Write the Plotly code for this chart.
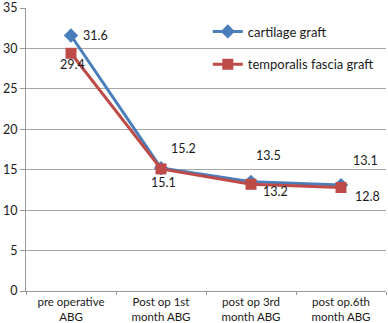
import plotly.graph_objects as go

categories = ["pre operative<br>ABG", "Post op 1st<br>month ABG", "post op 3rd<br>month ABG", "post op.6th<br>month ABG"]
cartilage = [31.6, 15.2, 13.5, 13.1]
temporalis = [29.4, 15.1, 13.2, 12.8]
y_ticks = [0, 5, 10, 15, 20, 25, 30, 35]

BLUE = "#4A7EBB"
RED = "#BE4B48"
FONT = "Lato"
TXT = "#1a1a1a"

fig = go.Figure()
fig.add_trace(go.Scatter(x=categories, y=cartilage, mode="lines+markers", name="cartilage graft",
                         legendgroup="a",
                         line=dict(color=BLUE, width=3),
                         marker=dict(symbol="diamond", size=11, color=BLUE)))
fig.add_trace(go.Scatter(x=categories, y=temporalis, mode="lines+markers", name="temporalis fascia graft",
                         legendgroup="b",
                         line=dict(color=RED, width=3),
                         marker=dict(symbol="square", size=11, color=RED)))

# data labels
c_off = [(24, 0), (22, 20), (17, 26), (24, 25)]
t_off = [(1, -11), (2, -14), (24, -7), (26, -9)]
for i, (cat, v) in enumerate(zip(categories, cartilage)):
    fig.add_annotation(x=cat, y=v, text=f"{v}", showarrow=False, xshift=c_off[i][0], yshift=c_off[i][1],
                       font=dict(family=FONT, size=12.5, color=TXT))
for i, (cat, v) in enumerate(zip(categories, temporalis)):
    fig.add_annotation(x=cat, y=v, text=f"{v}", showarrow=False, xshift=t_off[i][0], yshift=t_off[i][1],
                       font=dict(family=FONT, size=12.5, color=TXT))

fig.update_layout(
    width=388, height=323,
    margin=dict(l=26, r=2, t=8, b=32),
    paper_bgcolor="white", plot_bgcolor="white",
    font=dict(family=FONT, size=12, color=TXT),
    showlegend=True,
    legend=dict(x=0.505, y=0.97, xanchor="left", yanchor="top", bgcolor="rgba(0,0,0,0)",
                font=dict(family=FONT, size=13, color=TXT), tracegroupgap=13,
                itemwidth=30),
    xaxis=dict(type="category", range=[-0.5, 3.5], showgrid=False, showline=True, automargin=False,
               linecolor="#999999", linewidth=1, ticks="outside", tickson="boundaries",
               ticklen=3, tickcolor="#999999", tickfont=dict(family=FONT, size=11.5, color=TXT)),
    yaxis=dict(range=[0, 35], tickvals=y_ticks, showgrid=True, gridcolor="#a6a6a6", gridwidth=1,
               showline=True, linecolor="#999999", linewidth=1, ticks="outside", ticklen=5,
               automargin=False,
               tickcolor="#999999", zeroline=False, tickfont=dict(family=FONT, size=12.5, color=TXT)),
)

fig.write_html("out.html", config={"displayModeBar": False},
               post_script="document.body.style.margin='0';")
